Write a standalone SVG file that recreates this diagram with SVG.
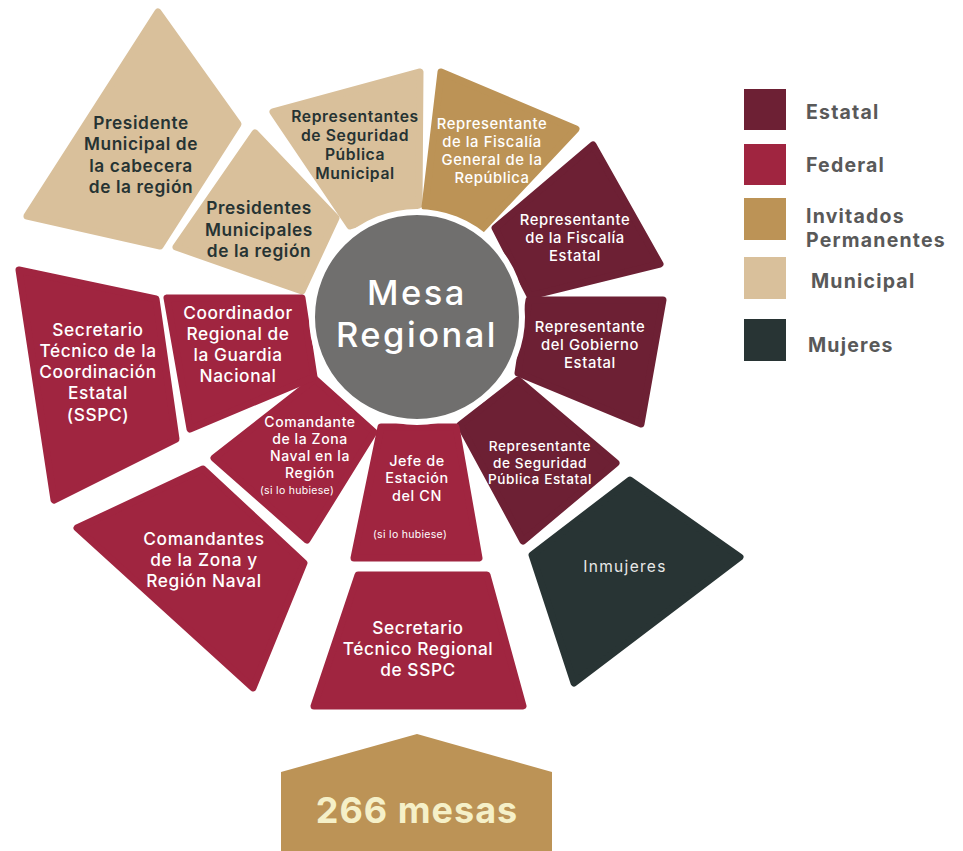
<svg xmlns="http://www.w3.org/2000/svg" width="963" height="851" viewBox="0 0 963 851">
<style>
.est{fill:#6d2034;stroke:#6d2034}
.fed{fill:#a02540;stroke:#a02540}
.inv{fill:#bc9356;stroke:#bc9356}
.mun{fill:#d9c09b;stroke:#d9c09b}
.muj{fill:#283434;stroke:#283434}
.sh{stroke-width:7;stroke-linejoin:round}
text{font-family:Inter,"Open Sans","DejaVu Sans",sans-serif;text-anchor:middle;letter-spacing:0.6px}
.dk{fill:#263333;font-weight:600}
.wt{fill:#ffffff;font-weight:500}
.sm{fill:#ffffff;font-weight:400;font-size:10.5px;letter-spacing:0.3px}
.lg{fill:#595959;font-weight:700;font-size:19.5px;text-anchor:start;letter-spacing:1.2px}
</style>
<rect width="963" height="851" fill="#ffffff"/>
<g id="connectors"/>
<g id="n-cabecera">
<polygon class="mun sh" points="158,12 238,124 160,246 27,216"/>
<text class="dk" font-size="17.3"><tspan x="141" y="129">Presidente</tspan><tspan x="141" y="150">Municipal de</tspan><tspan x="141" y="172">la cabecera</tspan><tspan x="141" y="193">de la región</tspan></text>
</g>
<g id="n-presidentes">
<polygon class="mun sh" points="255,133 336,218 302,291 176,247"/>
<text class="dk" font-size="17.3"><tspan x="259" y="214">Presidentes</tspan><tspan x="259" y="236">Municipales</tspan><tspan x="259" y="257">de la región</tspan></text>
</g>
<g id="n-segmun">
<polygon class="mun sh" points="273,112 420,72 419,205 350,226"/>
<text class="dk" font-size="15.7"><tspan x="355" y="122">Representantes</tspan><tspan x="355" y="141">de Seguridad</tspan><tspan x="355" y="160">Pública</tspan><tspan x="355" y="179">Municipal</tspan></text>
</g>
<g id="n-fgr">
<polygon class="inv sh" points="441,72 576,129 481,230 425,207"/>
<text class="wt" font-size="14.8"><tspan x="492" y="129">Representante</tspan><tspan x="492" y="147">de la Fiscalía</tspan><tspan x="492" y="165">General de la</tspan><tspan x="492" y="183">República</tspan></text>
</g>
<g id="n-fiscest">
<polygon class="est sh" points="593,145 660,264 530,296 495,228"/>
<text class="wt" font-size="14.8"><tspan x="575" y="225">Representante</tspan><tspan x="575" y="243">de la Fiscalía</tspan><tspan x="575" y="261">Estatal</tspan></text>
</g>
<g id="n-gobest">
<polygon class="est sh" points="529,300 663,300 641,424 518,373"/>
<text class="wt" font-size="14.8"><tspan x="590" y="332">Representante</tspan><tspan x="590" y="350">del Gobierno</tspan><tspan x="590" y="368">Estatal</tspan></text>
</g>
<g id="n-segest">
<polygon class="est sh" points="460,425 518,380 616,463 523,541"/>
<text class="wt" font-size="13.6"><tspan x="540" y="451">Representante</tspan><tspan x="540" y="468">de Seguridad</tspan><tspan x="540" y="484">Pública Estatal</tspan></text>
</g>
<g id="n-inmujeres">
<polygon class="muj sh" points="630,480 740,557 574,683 532,555"/>
<text fill="#e8e8e8" font-size="15.5" font-weight="400" x="625" y="572" style="letter-spacing:1.3px">Inmujeres</text>
</g>
<g id="n-sectecreg">
<polygon class="fed sh" points="358,575 487,575 523,706 314,706"/>
<text class="wt" font-size="17.3"><tspan x="418" y="634">Secretario</tspan><tspan x="418" y="655">Técnico Regional</tspan><tspan x="418" y="676">de SSPC</tspan></text>
</g>
<g id="n-jefe">
<polygon class="fed sh" points="381,427 456,427 479,558 354,558"/>
<text class="wt" font-size="14.4"><tspan x="417" y="466">Jefe de</tspan><tspan x="417" y="483">Estación</tspan><tspan x="417" y="501">del CN</tspan></text>
<text class="sm" x="410" y="538">(si lo hubiese)</text>
</g>
<g id="n-zonanaval">
<polygon class="fed sh" points="315,379 374,432 307,540 214,458"/>
<text class="wt" font-size="14"><tspan x="310" y="427">Comandante</tspan><tspan x="310" y="444">de la Zona</tspan><tspan x="310" y="461">Naval en la</tspan><tspan x="310" y="478">Región</tspan></text>
<text class="sm" x="297" y="494">(si lo hubiese)</text>
</g>
<g id="n-coordinador">
<polygon class="fed sh" points="167,298 302,298 314,377 190,429"/>
<text class="wt" font-size="17.3"><tspan x="238" y="319">Coordinador</tspan><tspan x="238" y="340">Regional de</tspan><tspan x="238" y="361">la Guardia</tspan><tspan x="238" y="382">Nacional</tspan></text>
</g>
<g id="n-sectecest">
<polygon class="fed sh" points="19,270 156,299 176,439 54,500"/>
<text class="wt" font-size="17.3"><tspan x="98" y="336">Secretario</tspan><tspan x="98" y="357">Técnico de la</tspan><tspan x="98" y="378">Coordinación</tspan><tspan x="98" y="399">Estatal</tspan><tspan x="98" y="421">(SSPC)</tspan></text>
</g>
<g id="n-comandantes">
<polygon class="fed sh" points="203,469 304,563 253,688 77,528"/>
<text class="wt" font-size="17.3"><tspan x="204" y="545">Comandantes</tspan><tspan x="204" y="566">de la Zona y</tspan><tspan x="204" y="587">Región Naval</tspan></text>
</g>
<g id="n-mesa">
<circle cx="417" cy="317" r="105" fill="#706f6e" stroke="#ffffff" stroke-width="6"/>
<text fill="#ffffff" font-size="34.5" font-weight="500" style="letter-spacing:2.5px"><tspan x="417" y="305">Mesa</tspan><tspan x="417" y="347">Regional</tspan></text>
</g>
<g id="n-266">
<polygon fill="#bc9356" points="417,734 552,772 552,851 281,851 281,772"/>
<text fill="#f5f0c8" font-size="36" font-weight="700" x="417" y="823" style="letter-spacing:1px">266 mesas</text>
</g>
<g id="legend">
<rect x="744" y="89" width="42" height="41" fill="#6d2034"/>
<rect x="744" y="144" width="42" height="41" fill="#a02540"/>
<rect x="744" y="198" width="42" height="42" fill="#bc9356"/>
<rect x="744" y="257" width="42" height="42" fill="#d9c09b"/>
<rect x="744" y="319" width="42" height="42" fill="#283434"/>
<text class="lg" x="806" y="119">Estatal</text>
<text class="lg" x="806" y="172">Federal</text>
<text class="lg"><tspan x="806" y="223">Invitados</tspan><tspan x="806" y="247">Permanentes</tspan></text>
<text class="lg" x="811" y="288">Municipal</text>
<text class="lg" x="808" y="352">Mujeres</text>
</g>
</svg>
